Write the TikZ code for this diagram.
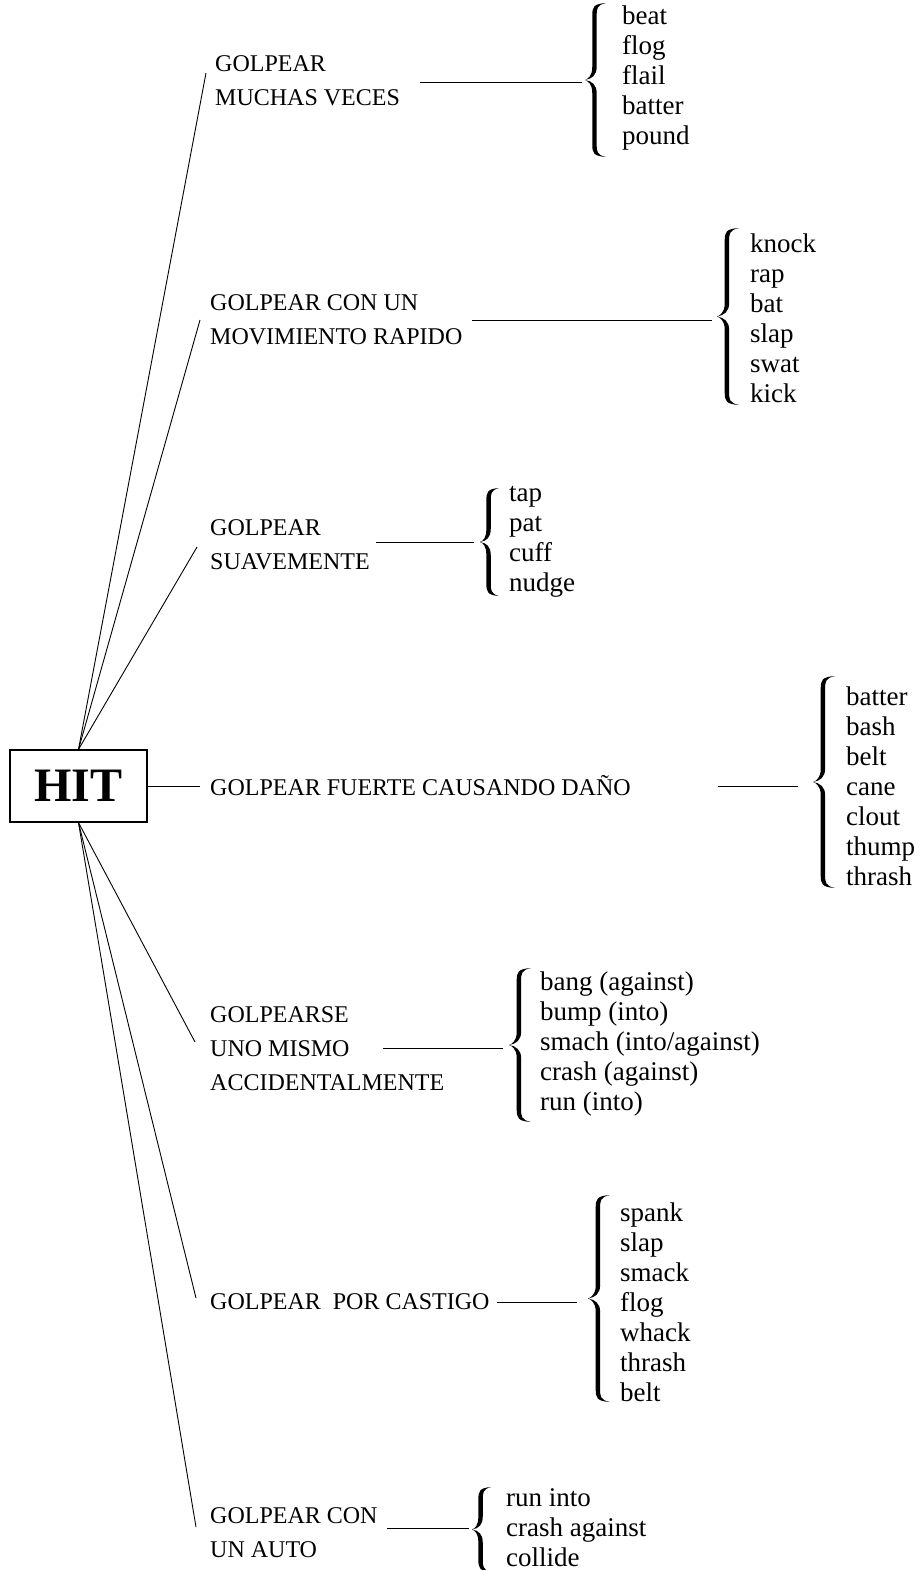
\documentclass[tikz,border=0pt]{standalone}
\usepackage{fontspec}
\setmainfont{Liberation Serif}
\newcommand\cbrace[4]{%
 \pgfmathsetmacro\bx{#1}%
 \pgfmathsetmacro\bm{(#2+#3)/2}%
 \pgfmathsetmacro\bsl{#1+0.45*#4-2.2}%
 \pgfmathsetmacro\bsr{#1+0.45*#4+2.2}%
 \pgfmathsetmacro\be{#1+#4}%
 \fill (\be,#2) .. controls (\bsl+1,#2+1) and (\bsl,#2+4) .. (\bsl,#2+13)
   -- (\bsl,\bm-13) .. controls (\bsl,\bm-4) and (\bx+3,\bm-1) .. (\bx,\bm)
   .. controls (\bx+3,\bm+1) and (\bsl,\bm+4) .. (\bsl,\bm+13)
   -- (\bsl,#3-13) .. controls (\bsl,#3-4) and (\bsl+1,#3-1) .. (\be,#3)
   .. controls (\bsr,#3-2) and (\bsr,#3-6) .. (\bsr,#3-13)
   -- (\bsr,\bm+13) .. controls (\bsr,\bm+5) and (\bx+7,\bm+1) .. (\bx,\bm)
   .. controls (\bx+7,\bm-1) and (\bsr,\bm-5) .. (\bsr,\bm-13)
   -- (\bsr,#2+13) .. controls (\bsr,#2+6) and (\bsr,#2+2) .. (\be,#2) -- cycle;
}
\tikzset{
 cat/.style={font=\fontsize{24}{34}\selectfont, align=left, anchor=west, inner sep=0pt},
 words/.style={font=\fontsize{27}{30}\selectfont, align=left, anchor=west, inner sep=0pt},
 conn/.style={line width=0.9pt},
 hline/.style={line width=1pt},
}
\begin{document}
\begin{tikzpicture}[x=1pt,y=-1pt]
\useasboundingbox (0,0) rectangle (921,1570);
\node[draw, line width=1.2pt, minimum width=137pt, minimum height=72pt, inner sep=0pt,
      font=\bfseries\fontsize{48}{48}\selectfont] (hit) at (78.5,786) {HIT};

% group 1
\node[cat] (t1) at (215,81) {GOLPEAR\\MUCHAS VECES};
\coordinate (c1) at (206,73);
\coordinate (a1) at (420,83); \coordinate (b1) at (582,83);
\cbrace{585}{3}{157}{21}
\node[words] (w1) at (622,78) {beat\\flog\\flail\\batter\\pound};

% group 2
\node[cat] (t2) at (210,320) {GOLPEAR CON UN\\MOVIMIENTO RAPIDO};
\coordinate (c2) at (200,320);
\coordinate (a2) at (472,320); \coordinate (b2) at (712,320);
\cbrace{717}{228}{405}{22}
\node[words] (w2) at (750,318) {knock\\rap\\bat\\slap\\swat\\kick};

% group 3
\node[cat] (t3) at (210,545) {GOLPEAR\\SUAVEMENTE};
\coordinate (c3) at (197,547);
\coordinate (a3) at (376,542); \coordinate (b3) at (474,542);
\cbrace{480}{488}{596}{19}
\node[words] (w3) at (509,542) {tap\\pat\\cuff\\nudge};

% group 4
\node[cat] (t4) at (210,786) {GOLPEAR FUERTE CAUSANDO DAÑO};
\coordinate (c4) at (200,786);
\coordinate (a4) at (718,786); \coordinate (b4) at (798,786);
\cbrace{813}{676}{888}{22}
\node[words] (w4) at (846,786) {batter\\bash\\belt\\cane\\clout\\thump\\thrash};

% group 5
\node[cat] (t5) at (210,1049) {GOLPEARSE\\UNO MISMO\\ACCIDENTALMENTE};
\coordinate (c5) at (195,1042);
\coordinate (a5) at (383,1048); \coordinate (b5) at (503,1048);
\cbrace{509}{968}{1122}{22}
\node[words] (w5) at (540,1044) {bang (against)\\bump (into)\\smach (into/against)\\crash (against)\\run (into)};

% group 6
\node[cat] (t6) at (210,1302) {GOLPEAR\ \ POR CASTIGO};
\coordinate (c6) at (196,1298);
\coordinate (a6) at (497,1302); \coordinate (b6) at (577,1302);
\cbrace{588}{1195}{1402}{22}
\node[words] (w6) at (620,1302) {spank\\slap\\smack\\flog\\whack\\thrash\\belt};

% group 7
\node[cat] (t7) at (210,1533) {GOLPEAR CON\\UN AUTO};
\coordinate (c7) at (196,1527);
\coordinate (a7) at (387,1528); \coordinate (b7) at (469,1528);
\cbrace{472}{1487}{1572}{19}
\node[words] (w7) at (506,1528) {run into\\crash against\\collide};

% connectors
\draw[conn] (hit.north) -- (c1);
\draw[conn] (hit.north) -- (c2);
\draw[conn] (hit.north) -- (c3);
\draw[conn] (hit.south) -- (c5);
\draw[conn] (hit.south) -- (c6);
\draw[conn] (hit.south) -- (c7);
\draw[hline] (hit.east) -- (c4);
\draw[hline] (a1) -- (b1);
\draw[hline] (a2) -- (b2);
\draw[hline] (a3) -- (b3);
\draw[hline] (a4) -- (b4);
\draw[hline] (a5) -- (b5);
\draw[hline] (a6) -- (b6);
\draw[hline] (a7) -- (b7);
\end{tikzpicture}
\end{document}
